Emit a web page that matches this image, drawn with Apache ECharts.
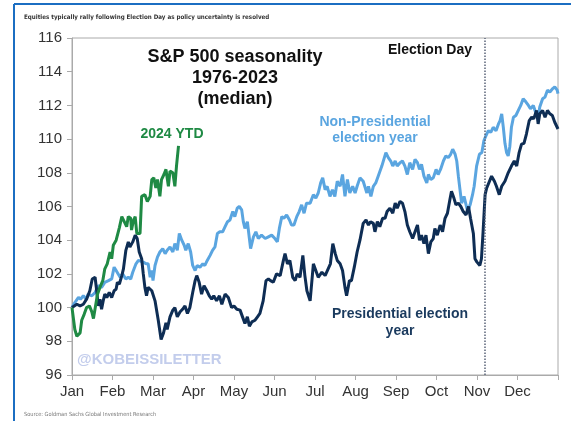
<!DOCTYPE html>
<html>
<head>
<meta charset="utf-8">
<script src="https://cdn.jsdelivr.net/npm/echarts@6/dist/echarts.min.js"></script>
<style>
  html, body { margin: 0; padding: 0; background: #fff; }
  #chart { width: 571px; height: 421px; }
</style>
</head>
<body>
<div id="chart"></div>
<script>
// month labels on the x axis (ticks at month starts, 12 = year end)
const MONTHS = ['Jan', 'Feb', 'Mar', 'Apr', 'May', 'Jun', 'Jul', 'Aug', 'Sep', 'Oct', 'Nov', 'Dec', ''];
const Y_TICKS = { min: 96, max: 116, step: 2 };
const ELECTION_DAY = 10.18; // ~Nov 5, in months from Jan 1

// Presidential election year (median), x in months from Jan 1
const presX = [0, 0.12, 0.2, 0.28, 0.36, 0.44, 0.5, 0.57, 0.61, 0.65, 0.69, 0.73, 0.77, 0.81, 0.86, 0.92, 0.98,
  1.04, 1.09, 1.12, 1.17, 1.23, 1.27, 1.33, 1.39, 1.43, 1.5, 1.56, 1.61, 1.66, 1.72, 1.76, 1.8, 1.84, 1.88, 1.97,
  2.05, 2.13, 2.2, 2.26, 2.32, 2.35, 2.42, 2.49, 2.54, 2.6, 2.67, 2.73, 2.79, 2.85, 2.91, 2.98,
  3.04, 3.08, 3.14, 3.2, 3.26, 3.33, 3.39, 3.45, 3.5, 3.57, 3.64, 3.7, 3.78, 3.86, 3.94,
  4.0, 4.07, 4.15, 4.21, 4.27, 4.33, 4.38, 4.44, 4.52, 4.58, 4.64, 4.72, 4.79, 4.85, 4.9, 4.97,
  5.05, 5.14, 5.22, 5.26, 5.32, 5.38, 5.45, 5.51, 5.56, 5.63, 5.7, 5.75, 5.8, 5.88, 5.96,
  6.02, 6.08, 6.17, 6.25, 6.38, 6.44, 6.5, 6.55, 6.62, 6.68, 6.74, 6.78, 6.85, 6.9, 6.97,
  7.04, 7.11, 7.19, 7.26, 7.32, 7.37, 7.44, 7.48, 7.54, 7.6, 7.67, 7.73, 7.78, 7.85, 7.92, 7.98,
  8.03, 8.1, 8.16, 8.22, 8.28, 8.34, 8.41, 8.47, 8.53, 8.58, 8.63, 8.69, 8.74, 8.8, 8.86, 8.92, 8.96,
  9.02, 9.09, 9.15, 9.21, 9.27, 9.33, 9.37, 9.43, 9.48, 9.54, 9.6, 9.66, 9.73, 9.79, 9.84, 9.91, 9.95,
  10.0, 10.07, 10.11, 10.15, 10.2, 10.24, 10.28, 10.36, 10.43, 10.48, 10.55, 10.61, 10.69, 10.77, 10.85, 10.92, 10.98,
  11.04, 11.1, 11.16, 11.22, 11.29, 11.35, 11.4, 11.47, 11.51, 11.55, 11.62, 11.68, 11.74, 11.8, 11.86, 11.92, 12.0];
const presY = [100.0, 100.2, 100.1, 100.2, 100.5, 101.0, 101.7, 101.8, 101.0, 100.1, 100.5, 99.9, 100.4, 100.8, 100.6, 100.9, 100.6,
  101.0, 101.1, 101.5, 101.4, 101.9, 102.3, 103.4, 103.9, 103.6, 103.9, 104.3, 104.1, 103.3, 102.9, 102.0, 101.2, 100.7, 101.2, 101.0,
  100.4, 99.25, 98.1, 98.5, 99.1, 98.7, 99.45, 99.85, 100.0, 99.45, 99.75, 99.9, 100.1, 99.65, 100.0, 100.9,
  101.6, 101.9, 101.5, 100.8, 101.3, 101.0, 100.7, 100.5, 100.7, 100.4, 100.7, 100.2, 100.8, 100.6, 100.0,
  100.1, 99.9, 99.85, 99.45, 99.05, 99.45, 98.9, 99.15, 99.25, 99.45, 99.65, 100.4, 101.6, 101.7, 101.6, 101.5,
  102.0, 101.9, 102.8, 103.2, 102.6, 102.8, 101.8, 101.6, 102.0, 101.8, 103.1, 101.9, 101.0, 100.4, 102.6,
  102.2, 101.8, 102.1, 101.9, 102.6, 103.8, 103.2, 102.8, 102.6, 102.2, 101.2, 100.7, 101.6, 101.6, 102.4,
  103.3, 104.0, 105.0, 105.2, 104.9, 105.1, 105.0, 104.5, 105.1, 104.8, 105.3, 105.3, 105.7, 105.9, 105.6, 106.2,
  105.9, 106.3, 106.2, 105.7, 104.9, 104.5, 104.1, 104.5, 104.9, 104.0, 104.3, 103.8, 104.3, 103.2, 103.9, 104.1, 104.7,
  104.3, 104.9, 104.5, 105.3, 105.6, 106.4, 106.9, 106.5, 106.1, 106.2, 106.0, 105.7, 105.5, 106.0, 105.3, 104.4, 102.9,
  102.7, 102.5, 102.9, 104.5, 106.7, 107.1, 107.2, 107.8, 107.5, 107.2, 106.7, 107.2, 107.5, 108.0, 108.4, 108.7, 108.4,
  109.2, 109.7, 109.75, 110.3, 111.1, 111.3, 111.2, 111.7, 110.9, 111.5, 111.7, 111.3, 111.7, 111.5, 111.4, 111.0, 110.6];

// Non-Presidential election year (median)
const nonPresX = [0, 0.07, 0.16, 0.21, 0.28, 0.35, 0.4, 0.49, 0.57, 0.65, 0.73, 0.81, 0.9, 0.98,
  1.04, 1.09, 1.14, 1.19, 1.25, 1.33, 1.39, 1.45, 1.5, 1.58, 1.64, 1.68, 1.76, 1.83, 1.88, 1.93, 1.97,
  2.0, 2.05, 2.11, 2.17, 2.24, 2.3, 2.35, 2.42, 2.49, 2.54, 2.6, 2.65, 2.71, 2.77, 2.81, 2.87, 2.93, 2.98,
  3.04, 3.09, 3.16, 3.23, 3.28, 3.34, 3.41, 3.47, 3.53, 3.59, 3.65, 3.72, 3.78, 3.84, 3.9, 3.97,
  4.02, 4.08, 4.13, 4.19, 4.23, 4.27, 4.33, 4.38, 4.41, 4.48, 4.54, 4.6, 4.68, 4.77, 4.85, 4.93,
  5.01, 5.07, 5.12, 5.18, 5.23, 5.3, 5.37, 5.42, 5.48, 5.55, 5.61, 5.67, 5.73, 5.79, 5.88, 5.96,
  6.02, 6.08, 6.14, 6.19, 6.25, 6.3, 6.37, 6.43, 6.49, 6.55, 6.62, 6.68, 6.74, 6.8, 6.86, 6.93, 6.99,
  7.04, 7.11, 7.19, 7.28, 7.32, 7.38, 7.44, 7.5, 7.56, 7.65, 7.7, 7.75, 7.81, 7.87, 7.92, 7.98,
  8.03, 8.1, 8.16, 8.22, 8.28, 8.34, 8.41, 8.47, 8.53, 8.58, 8.63, 8.69, 8.76, 8.8, 8.86, 8.92, 8.99,
  9.04, 9.1, 9.17, 9.23, 9.29, 9.35, 9.4, 9.46, 9.5, 9.54, 9.58, 9.62, 9.68, 9.74, 9.77, 9.83, 9.89, 9.93, 9.99,
  10.06, 10.12, 10.17, 10.22, 10.28, 10.34, 10.4, 10.47, 10.53, 10.57, 10.61, 10.65, 10.69, 10.73, 10.77, 10.81, 10.85, 10.9, 10.96,
  11.02, 11.08, 11.14, 11.21, 11.27, 11.32, 11.39, 11.46, 11.51, 11.55, 11.62, 11.68, 11.74, 11.8, 11.87, 11.92, 11.98, 12.0];
const nonPresY = [100.0, 100.3, 100.6, 100.5, 100.7, 100.5, 100.8, 100.7, 100.9, 101.3, 101.2, 101.5, 101.6, 101.7,
  102.4, 102.2, 102.0, 101.8, 102.0, 101.7, 101.8, 101.7, 102.1, 102.6, 102.8, 102.7, 102.7, 102.6, 102.6, 101.8, 102.2,
  101.6, 102.5, 103.0, 103.3, 103.5, 103.2, 103.4, 103.6, 103.3, 103.8, 103.4, 104.4, 104.0, 103.7, 103.4, 103.8, 103.3, 102.5,
  102.2, 102.5, 102.4, 102.6, 102.5, 102.8, 103.1, 103.4, 103.6, 104.4, 104.5, 104.5, 104.8, 105.1, 105.2, 105.7,
  105.4, 105.9, 106.0, 105.8, 105.1, 104.7, 105.1, 104.1, 103.5, 104.2, 104.5, 104.1, 104.3, 104.1, 104.2, 104.3,
  104.1, 103.9, 104.7, 105.4, 105.3, 105.5, 105.2, 104.9, 104.9, 105.4, 105.7, 106.1, 105.6, 106.2, 106.2, 106.7,
  106.5, 106.8, 107.4, 107.7, 107.0, 107.2, 106.6, 107.0, 106.6, 107.5, 107.2, 107.9, 106.6, 107.6, 106.8, 107.2, 106.8,
  107.2, 107.7, 107.5, 106.8, 107.2, 106.6, 107.2, 107.4, 107.8, 108.4, 108.8, 109.2, 108.9, 108.7, 108.4, 108.7,
  108.4, 108.6, 108.7, 108.4, 107.9, 108.6, 108.2, 108.8, 108.6, 108.2, 108.5, 107.8, 107.4, 107.9, 107.6, 107.7, 108.2,
  107.9, 108.2, 108.7, 109.0, 108.9, 109.1, 109.4, 109.1, 108.7, 107.8, 107.0, 106.2, 106.6, 106.0, 105.7, 106.1, 106.7, 107.2, 108.4,
  109.1, 109.2, 109.9, 110.2, 110.5, 110.4, 110.7, 110.5, 110.9, 111.1, 111.5, 110.7, 109.75, 109.2, 109.0, 109.55, 110.7, 111.3, 111.4,
  111.7, 112.0, 112.4, 112.2, 112.0, 111.8, 112.0, 111.5, 111.3, 111.9, 112.4, 112.5, 112.9, 112.8, 113.0, 113.1, 112.9, 112.7];

// 2024 year to date
const ytdX = [0, 0.07, 0.12, 0.2, 0.24, 0.3, 0.36, 0.43, 0.49, 0.53, 0.57, 0.63, 0.69, 0.76, 0.81, 0.87, 0.94, 0.98,
  1.02, 1.09, 1.17, 1.23, 1.27, 1.35, 1.39, 1.45, 1.47, 1.51, 1.56, 1.6, 1.68, 1.72, 1.8, 1.86, 1.93, 1.97,
  2.02, 2.07, 2.11, 2.17, 2.21, 2.27, 2.32, 2.38, 2.42, 2.49, 2.54, 2.58, 2.63];
const ytdY = [100.0, 98.7, 98.3, 98.5, 99.25, 99.6, 100.0, 100.1, 99.75, 99.35, 99.45, 100.8, 101.2, 101.6, 102.3, 102.6, 103.3, 102.9,
  103.7, 104.0, 104.75, 105.4, 105.3, 104.8, 105.4, 105.3, 104.6, 105.1, 105.4, 104.4, 104.4, 106.6, 106.7, 106.3, 106.6, 107.6,
  107.7, 107.1, 107.6, 106.6, 107.6, 107.9, 108.2, 107.2, 108.1, 108.0, 107.2, 108.4, 109.6];

const pairs = (xs, ys) => xs.map((x, i) => [x, ys[i]]);

const FONT = '"Liberation Sans", Arial, sans-serif';
const chart = echarts.init(document.getElementById('chart'), null, { renderer: 'canvas' });

const label = (text, x, y, size, fill, align, lineHeight) => ({
    type: 'text',
    z: 100,
    style: {
        text, x, y, fill,
        font: `bold ${size}px ${FONT}`,
        align: align, textAlign: align,
        verticalAlign: 'middle', textVerticalAlign: 'middle',
        lineHeight: lineHeight || size + 2
    }
});

chart.setOption({
    animation: false,
    backgroundColor: '#fff',
    grid: { left: 72, right: 13, top: 38, bottom: 46, show: true, borderColor: '#aaa', borderWidth: 1 },
    xAxis: {
        type: 'value', min: 0, max: 12, interval: 1,
        axisLine: { lineStyle: { color: '#aaa' } },
        axisTick: { show: true, length: 5, lineStyle: { color: '#aaa' } },
        splitLine: { show: false },
        axisLabel: {
            margin: 9, fontSize: 15, color: '#333', fontFamily: FONT,
            formatter: v => MONTHS[Math.round(v)] || ''
        }
    },
    yAxis: {
        type: 'value', min: Y_TICKS.min, max: Y_TICKS.max, interval: Y_TICKS.step,
        axisLine: { show: true, lineStyle: { color: '#aaa' } },
        axisTick: { show: true, length: 5, lineStyle: { color: '#aaa' } },
        splitLine: { show: false },
        axisLabel: { margin: 10, fontSize: 15, color: '#333', fontFamily: FONT }
    },
    series: [
        {
            name: 'Non-Presidential election year', type: 'line', showSymbol: false,
            data: pairs(nonPresX, nonPresY),
            lineStyle: { color: '#5aa5e0', width: 3 }, itemStyle: { color: '#5aa5e0' },
            markLine: {
                silent: true, symbol: 'none', label: { show: false },
                lineStyle: { color: '#5a6478', type: 'dotted', width: 1.5 },
                data: [{ xAxis: ELECTION_DAY }]
            }
        },
        {
            name: 'Presidential election year', type: 'line', showSymbol: false,
            data: pairs(presX, presY),
            lineStyle: { color: '#0e2d54', width: 3 }, itemStyle: { color: '#0e2d54' }
        },
        {
            name: '2024 YTD', type: 'line', showSymbol: false,
            data: pairs(ytdX, ytdY),
            lineStyle: { color: '#1f8a44', width: 3 }, itemStyle: { color: '#1f8a44' }
        }
    ],
    graphic: [
        // blue frame
        { type: 'line', shape: { x1: 14, y1: 4, x2: 571, y2: 4 }, style: { stroke: '#1b6ec2', lineWidth: 2 } },
        { type: 'line', shape: { x1: 14, y1: 4, x2: 14, y2: 421 }, style: { stroke: '#1b6ec2', lineWidth: 2 } },
        {
            type: 'text', style: {
                text: 'Equities typically rally following Election Day as policy uncertainty is resolved',
                x: 24, y: 17, fill: '#333', font: 'bold 6.2px "DejaVu Sans Condensed", sans-serif',
                verticalAlign: 'middle', textVerticalAlign: 'middle'
            }
        },
        {
            type: 'text', style: {
                text: 'Source: Goldman Sachs Global Investment Research',
                x: 24, y: 415, fill: '#777', font: '5.6px "DejaVu Sans Condensed", sans-serif',
                verticalAlign: 'middle', textVerticalAlign: 'middle'
            }
        },
        label('S&P 500 seasonality\n1976-2023\n(median)', 235, 78, 18, '#111', 'center', 21),
        label('Election Day', 430, 50, 14, '#111', 'center'),
        label('2024 YTD', 172, 134, 14, '#1f8a44', 'center'),
        label('Non-Presidential\nelection year', 375, 130, 14, '#5aa5e0', 'center', 16),
        label('Presidential election\nyear', 400, 323, 14, '#1a3a5e', 'center', 17),
        label('@KOBEISSILETTER', 77, 360, 15, '#c3cdec', 'left')
    ]
});
</script>
</body>
</html>
